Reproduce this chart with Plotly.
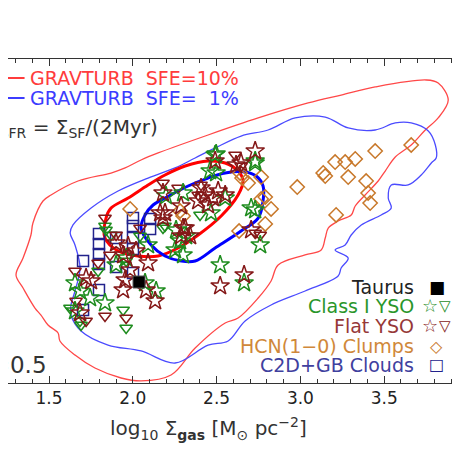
import plotly.graph_objects as go

# GRAVTURB contours (log10 Sigma_gas, log10 Sigma_SFR)
sfe10_outer_x = [1.464, 1.512, 1.673, 1.870, 1.954, 2.049, 2.151, 2.449, 2.748, 3.046, 3.243, 3.446,
                 3.751, 3.822, 3.882, 3.822, 3.745, 3.661, 3.566, 3.506, 3.464, 3.386, 3.327, 3.303,
                 3.225, 3.166, 3.148, 3.124, 3.028, 2.867, 2.825, 2.748, 2.628, 2.551, 2.372, 2.228,
                 2.049, 1.930, 1.774, 1.655, 1.565, 1.554, 1.494, 1.452, 1.416, 1.345, 1.303, 1.345,
                 1.392, 1.404, 1.464]
sfe10_outer_y = [1.966, 2.031, 2.182, 2.268, 2.323, 2.409, 2.485, 2.679, 2.863, 3.025, 3.111, 3.198,
                 3.273, 3.241, 3.057, 2.863, 2.733, 2.571, 2.441, 2.290, 2.182, 2.031, 1.912, 1.815,
                 1.750, 1.674, 1.566, 1.437, 1.383, 1.275, 1.102, 0.918, 0.702, 0.648, 0.378, 0.086,
                 0.022, 0.054, 0.162, 0.302, 0.454, 0.540, 0.626, 0.734, 0.810, 1.026, 1.167, 1.350,
                 1.599, 1.728, 1.966]

sfe1_outer_x = [1.626, 1.643, 1.751, 1.912, 2.091, 2.252, 2.372, 2.491, 2.646, 2.807, 2.969, 3.148,
                3.285, 3.446, 3.566, 3.661, 3.763, 3.805, 3.810, 3.781, 3.721, 3.643, 3.542, 3.524,
                3.542, 3.482, 3.363, 3.303, 3.267, 3.207, 3.285, 3.243, 3.225, 3.028, 2.825, 2.670,
                2.569, 2.449, 2.252, 2.049, 1.852, 1.691, 1.631, 1.631, 1.655, 1.685, 1.655, 1.626]
sfe1_outer_y = [1.620, 1.707, 1.890, 2.074, 2.214, 2.323, 2.431, 2.539, 2.668, 2.733, 2.863, 2.873,
                2.755, 2.733, 2.809, 2.809, 2.722, 2.571, 2.431, 2.377, 2.247, 2.139, 2.139, 1.998,
                1.890, 1.815, 1.707, 1.599, 1.491, 1.437, 1.350, 1.242, 1.156, 0.994, 0.843, 0.670,
                0.454, 0.410, 0.216, 0.346, 0.410, 0.562, 0.735, 0.843, 0.994, 1.242, 1.491, 1.620]

sfe10_inner_x = [1.840, 1.834, 1.912, 2.031, 2.151, 2.270, 2.390, 2.527, 2.628, 2.658, 2.628, 2.551,
                 2.449, 2.312, 2.192, 2.091, 1.972, 1.870, 1.840]
sfe10_inner_y = [1.782, 1.566, 1.426, 1.372, 1.372, 1.458, 1.599, 1.804, 2.031, 2.182, 2.290, 2.377,
                 2.398, 2.344, 2.247, 2.139, 1.998, 1.890, 1.782]

sfe1_inner_x = [2.049, 2.073, 2.121, 2.192, 2.330, 2.449, 2.551, 2.670, 2.736, 2.777, 2.777, 2.748,
                2.646, 2.491, 2.372, 2.288, 2.192, 2.109, 2.049]
sfe1_inner_y = [1.674, 1.815, 1.923, 1.998, 2.128, 2.214, 2.269, 2.280, 2.236, 2.128, 1.966, 1.782,
                1.642, 1.458, 1.318, 1.318, 1.372, 1.491, 1.674]

# observations
hcn_x = [1.984, 2.282, 2.300, 2.640, 2.652, 2.688, 2.766, 2.766, 2.790, 2.825, 2.790, 2.634, 2.981,
         3.136, 3.148, 3.207, 3.267, 3.327, 3.446, 3.661, 3.285, 3.392, 3.404, 3.416, 3.213]
hcn_y = [1.880, 1.858, 1.804, 2.269, 2.214, 2.160, 2.225, 1.988, 2.009, 1.880, 1.718, 1.642, 2.117,
         2.269, 2.236, 2.387, 2.387, 2.420, 2.506, 2.571, 2.225, 2.182, 2.052, 1.944, 1.815]

clouds_x = [2.001, 2.001, 2.103, 2.103, 1.798, 1.798, 1.798, 1.900, 2.001, 2.001, 1.703, 1.798,
            1.900, 1.798, 2.001, 1.703]
clouds_y = [1.782, 1.696, 1.772, 1.664, 1.610, 1.502, 1.393, 1.566, 1.566, 1.448, 1.318, 1.285,
            1.253, 1.005, 1.188, 0.789]

taurus_x = [2.037]
taurus_y = [1.091]

class1_star_x = [2.497, 2.730, 2.461, 2.497, 2.300, 2.198, 2.706, 2.258, 2.318, 2.282, 2.760, 2.091,
                 2.252, 2.300, 2.467, 2.551, 2.521, 1.834, 1.745, 1.655, 1.685, 1.900, 1.960, 2.139,
                 2.073, 2.664, 2.730, 2.491, 2.730, 1.655]
class1_star_y = [2.474, 2.398, 2.290, 2.269, 2.052, 2.020, 1.890, 1.653, 1.588, 1.534, 1.491, 1.491,
                 1.437, 1.383, 1.836, 1.998, 1.275, 0.864, 0.918, 1.080, 0.994, 1.275, 1.350, 0.994,
                 1.080, 1.080, 1.869, 2.463, 2.377, 0.778]
class1_tri_x = [2.401, 2.192, 1.834, 1.870, 1.840, 1.793, 1.960, 1.942, 1.960, 1.685, 1.691, 2.043,
                2.180, 1.625]
class1_tri_y = [1.815, 1.696, 1.696, 1.599, 1.653, 1.210, 1.318, 0.789, 0.594, 0.670, 0.627, 1.588,
                1.674, 0.810]

flat_star_x = [2.730, 2.491, 2.616, 2.646, 2.180, 2.407, 2.431, 2.479, 2.390, 2.449, 2.551, 2.288,
               2.163, 2.180, 2.300, 2.342, 2.706, 1.900, 1.972, 1.942, 2.019, 2.091, 1.984, 1.954,
               1.942, 2.079, 2.133, 1.721, 1.751, 1.685, 2.521, 2.312, 2.192, 2.288, 2.664, 2.509]
flat_star_y = [2.506, 2.398, 2.355, 2.377, 2.052, 2.106, 2.031, 1.998, 1.966, 1.923, 2.031, 1.912,
               1.836, 1.782, 1.674, 1.588, 1.653, 1.512, 1.480, 1.383, 1.426, 1.296, 1.221, 1.113,
               1.005, 1.005, 0.886, 1.134, 1.102, 0.756, 1.048, 1.674, 1.836, 1.588, 1.167, 2.074]
flat_tri_x = [2.610, 2.270, 2.180, 2.407, 1.834, 2.043, 2.646, 2.390, 2.730, 1.655, 1.661, 1.721,
              1.834, 1.960, 1.900, 1.864, 1.793, 2.760]
flat_tri_y = [2.463, 2.106, 2.160, 2.139, 1.782, 1.674, 2.344, 2.031, 1.620, 1.210, 0.886, 0.670,
              0.724, 0.702, 1.599, 1.383, 1.296, 1.599]

x_ticks = [1.5, 2.0, 2.5, 3.0, 3.5]

GREEN = '#1e8c1e'
MAROON = '#841818'
ORANGE = '#c8782a'
NAVY = '#22228c'
FONT = 'DejaVu Sans'

fig = go.Figure()

# model contours
for cx, cy, col, w in [(sfe10_outer_x, sfe10_outer_y, '#ff4848', 1.3),
                       (sfe1_outer_x, sfe1_outer_y, '#4b4bff', 1.3),
                       (sfe10_inner_x, sfe10_inner_y, '#ff0000', 3),
                       (sfe1_inner_x, sfe1_inner_y, '#0000ff', 3)]:
    fig.add_trace(go.Scatter(x=cx, y=cy, mode='lines', line=dict(color=col, width=w),
                             line_shape='spline', hoverinfo='skip'))


def add_points(xs, ys, symbol, color, size):
    fig.add_trace(go.Scatter(x=xs, y=ys, mode='markers',
                             marker=dict(symbol=symbol, size=size, color=color,
                                         line=dict(color=color, width=1.5))))


add_points(clouds_x, clouds_y, 'square-open', NAVY, 11)
add_points(hcn_x, hcn_y, 'diamond-open', ORANGE, 11)
add_points(class1_tri_x, class1_tri_y, 'triangle-down-open', GREEN, 11)
add_points(flat_tri_x, flat_tri_y, 'triangle-down-open', MAROON, 11)
add_points(class1_star_x, class1_star_y, 'star-open', GREEN, 14)
add_points(flat_star_x, flat_star_y, 'star-open', MAROON, 14)
fig.add_trace(go.Scatter(x=taurus_x, y=taurus_y, mode='markers',
                         marker=dict(symbol='square', size=12, color='black',
                                     line=dict(color='#555', width=1))))

annotations = []


def note(text, x, y, color, size, anchor='left', xref='paper'):
    annotations.append(dict(text=text, x=x, y=y, xref=xref, yref='paper', xanchor=anchor,
                            yanchor='middle', showarrow=False,
                            font=dict(family=FONT, size=size, color=color)))


nb = '\u00a0'
note('GRAVTURB' + nb * 2 + 'SFE=10%', 0.044, 0.941, '#ff3c3c', 19)
note('GRAVTURB' + nb * 2 + 'SFE=' + nb * 2 + '1%', 0.044, 0.880, '#3c3cff', 19)
note('Σ<sub>SFR</sub> = Σ<sub>SF</sub>/(2Myr)', 0.330, 0.787, '#333333', 20, anchor='right')
note('β=0.5', 0.090, 0.056, '#333333', 23, anchor='right')

# key at bottom right
note('Taurus', 0.886, 0.296, '#222222', 19, anchor='right')
note('Class I YSO', 0.886, 0.238, '#2a962a', 19, anchor='right')
note('Flat YSO', 0.886, 0.176, '#963838', 19, anchor='right')
note('HCN(1−0) Clumps', 0.886, 0.114, '#d0883a', 19, anchor='right')
note('C2D+GB Clouds', 0.886, 0.056, '#40409e', 19, anchor='right')
note('■', 0.932, 0.296, 'black', 17, anchor='center')
note('☆', 0.918, 0.238, GREEN, 18, anchor='center')
note('▽', 0.950, 0.238, GREEN, 15, anchor='center')
note('☆', 0.918, 0.176, MAROON, 18, anchor='center')
note('▽', 0.950, 0.176, MAROON, 15, anchor='center')
note('◇', 0.932, 0.114, ORANGE, 16, anchor='center')
note('□', 0.932, 0.056, NAVY, 16, anchor='center')

note('log<sub>10</sub> Σ<sub><b>gas</b></sub> [M<sub>⊙</sub> pc<sup>−2</sup>]', 2.45, -0.139,
     '#333333', 20, anchor='center', xref='x')

legend_lines = [dict(type='line', xref='paper', yref='paper', x0=-0.05, x1=0.036, y0=0.941,
                     y1=0.941, line=dict(color='#ff3c3c', width=2)),
                dict(type='line', xref='paper', yref='paper', x0=-0.05, x1=0.036, y0=0.880,
                     y1=0.880, line=dict(color='#3c3cff', width=2))]

fig.update_layout(
    width=460, height=462,
    margin=dict(l=0, r=0, t=51, b=87),
    paper_bgcolor='white', plot_bgcolor='white',
    showlegend=False,
    annotations=annotations,
    shapes=legend_lines,
    xaxis=dict(range=[1.2552, 3.9999], tickmode='array', tickvals=x_ticks,
               ticktext=['%.1f' % v for v in x_ticks],
               ticks='inside', ticklen=7, tickcolor='#333', tickwidth=1,
               minor=dict(dtick=0.1, tick0=1.0, ticks='inside', ticklen=4, tickcolor='#333'),
               showline=True, linecolor='#333', linewidth=1, mirror='ticks',
               showgrid=False, zeroline=False,
               tickfont=dict(family=FONT, size=17, color='#222')),
    yaxis=dict(range=[0, 3.5], dtick=0.5, tick0=0, side='right',
               ticks='inside', ticklen=12, tickcolor='#333', tickwidth=1,
               minor=dict(dtick=0.05, ticks='inside', ticklen=5, tickcolor='#333'),
               showticklabels=False, showline=True, linecolor='#333', linewidth=1,
               showgrid=False, zeroline=False),
)

fig.write_html("out.html")
